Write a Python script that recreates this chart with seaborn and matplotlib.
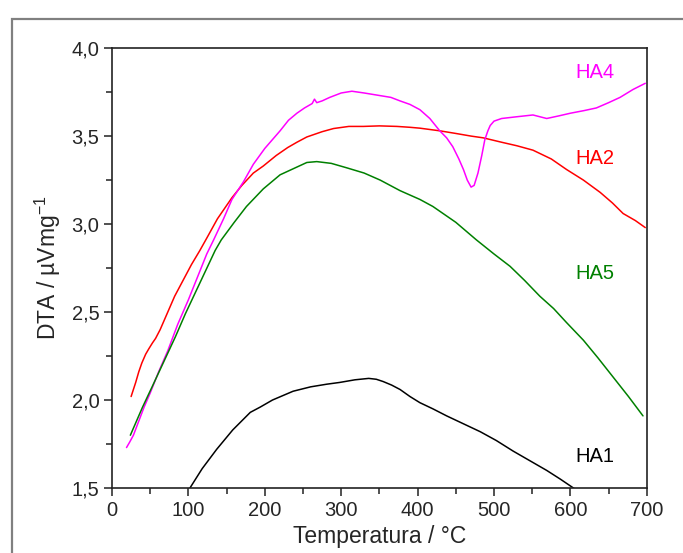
import numpy as np
from matplotlib import pyplot as plt
from matplotlib.patches import Rectangle
import pandas as pd
import seaborn as sns

# values
ha2_t = [25, 28, 31, 35, 39, 44, 48, 53, 57, 63, 72, 82, 93, 104, 115, 124, 138,
         157, 170, 185, 198, 215, 230, 242, 255, 275, 290, 310, 329, 350, 373,
         390, 403, 429, 450, 470, 486, 510, 530, 551, 575, 595, 617, 639, 655,
         669, 685, 698]
ha2_y = [2.02, 2.06, 2.10, 2.16, 2.21, 2.26, 2.29, 2.325, 2.35, 2.40, 2.49, 2.59,
         2.68, 2.77, 2.85, 2.92, 3.03, 3.15, 3.22, 3.29, 3.33, 3.39, 3.435, 3.465,
         3.495, 3.525, 3.543, 3.555, 3.555, 3.558, 3.555, 3.55, 3.545, 3.53,
         3.515, 3.50, 3.49, 3.465, 3.445, 3.42, 3.37, 3.31, 3.25, 3.18, 3.12,
         3.06, 3.02, 2.98]

ha4_t = [19, 23, 28, 35, 42, 50, 61, 73, 86, 100, 112, 124, 133, 146, 157, 172,
         185, 200, 210, 220, 231, 242, 252, 262, 265, 268, 275, 285, 300, 314,
         330, 351, 365, 377, 390, 403, 416, 429, 438, 446, 454, 460, 465, 470,
         474, 479, 484, 488, 492, 495, 500, 510, 530, 551, 560, 569, 585, 600,
         618, 634, 650, 665, 682, 698]
ha4_y = [1.73, 1.76, 1.80, 1.88, 1.96, 2.04, 2.16, 2.28, 2.43, 2.57, 2.70, 2.83,
         2.91, 3.03, 3.14, 3.24, 3.34, 3.43, 3.48, 3.53, 3.59, 3.63, 3.66, 3.685,
         3.71, 3.69, 3.70, 3.72, 3.745, 3.755, 3.745, 3.73, 3.72, 3.70, 3.68,
         3.65, 3.60, 3.53, 3.49, 3.44, 3.37, 3.31, 3.25, 3.21, 3.22, 3.29, 3.39,
         3.48, 3.53, 3.56, 3.585, 3.60, 3.61, 3.62, 3.61, 3.60, 3.615, 3.63,
         3.645, 3.66, 3.69, 3.72, 3.765, 3.80]

ha5_t = [24, 30, 40, 53, 68, 83, 96, 109, 122, 135, 143, 160, 176, 198, 220, 255,
         268, 287, 307, 330, 351, 377, 403, 420, 450, 477, 500, 521, 540, 560,
         578, 595, 617, 636, 656, 676, 695]
ha5_y = [1.80, 1.86, 1.96, 2.08, 2.22, 2.36, 2.49, 2.61, 2.73, 2.85, 2.91, 3.01,
         3.10, 3.20, 3.28, 3.35, 3.355, 3.345, 3.32, 3.29, 3.25, 3.19, 3.14,
         3.10, 3.01, 2.91, 2.83, 2.76, 2.68, 2.59, 2.52, 2.44, 2.34, 2.24, 2.13,
         2.02, 1.91]

ha1_t = [85, 102, 118, 137, 158, 181, 194, 210, 237, 260, 281, 298, 318, 336,
         346, 355, 366, 377, 390, 403, 420, 438, 460, 482, 503, 525, 547, 569,
         587, 604, 620]
ha1_y = [1.40, 1.50, 1.61, 1.72, 1.83, 1.93, 1.96, 2.00, 2.05, 2.075, 2.09, 2.10,
         2.115, 2.123, 2.118, 2.105, 2.085, 2.06, 2.02, 1.985, 1.95, 1.91,
         1.865, 1.82, 1.77, 1.71, 1.655, 1.60, 1.55, 1.50, 1.45]

x_ticks = [0, 100, 200, 300, 400, 500, 600, 700]
y_ticks = [1.5, 2.0, 2.5, 3.0, 3.5, 4.0]
y_tick_labels = ["1,5", "2,0", "2,5", "3,0", "3,5", "4,0"]

series = [
    ("HA2", ha2_t, ha2_y, "#ff0000", 3.375),
    ("HA4", ha4_t, ha4_y, "#ff00ff", 3.86),
    ("HA5", ha5_t, ha5_y, "#008000", 2.72),
    ("HA1", ha1_t, ha1_y, "#000000", 1.68),
]

sns.set_style("ticks")
plt.rcParams["font.family"] = ["Liberation Sans", "DejaVu Sans"]
plt.rcParams["mathtext.default"] = "regular"

fig = plt.figure(figsize=(6.83, 5.53), dpi=100)
ax = fig.add_axes([0.164, 0.1175, 0.783, 0.7955])

for name, t, y, color, label_y in series:
    df = pd.DataFrame({"t": t, "dta": y})
    sns.lineplot(data=df, x="t", y="dta", color=color, linewidth=1.1, sort=False,
                 ax=ax)
    ax.text(632, label_y, name, color=color, fontsize=14.5, ha="center",
            va="center")

ax.set_xlim(0, 700)
ax.set_ylim(1.5, 4.0)
ax.set_xticks(x_ticks)
ax.set_xticklabels([str(v) for v in x_ticks])
ax.set_xticks([50, 150, 250, 350, 450, 550, 650], minor=True)
ax.set_yticks(y_ticks)
ax.set_yticklabels(y_tick_labels)
ax.set_yticks([1.75, 2.25, 2.75, 3.25, 3.75], minor=True)

ax.set_xlabel("Temperatura / °C", fontsize=16.5, labelpad=4)
ax.set_ylabel("DTA / µVmg$^{-1}$", fontsize=16.5, labelpad=6)

for side in ["top", "right", "left", "bottom"]:
    ax.spines[side].set_visible(True)
    ax.spines[side].set_linewidth(1.2)
    ax.spines[side].set_color("#222222")
ax.tick_params(which="major", direction="out", length=6, width=1.1,
               labelsize=14.5, color="#222222", pad=3)
ax.tick_params(which="minor", direction="out", length=4, width=1.1,
               color="#222222")

# grey frame around the whole picture
fig.add_artist(Rectangle((12 / 683, -0.2), 1.2, 0.2 + (1 - 19 / 553),
                         transform=fig.transFigure, fill=False,
                         edgecolor="#808080", linewidth=1.6))

plt.savefig("out.png", dpi=100)
plt.close()
